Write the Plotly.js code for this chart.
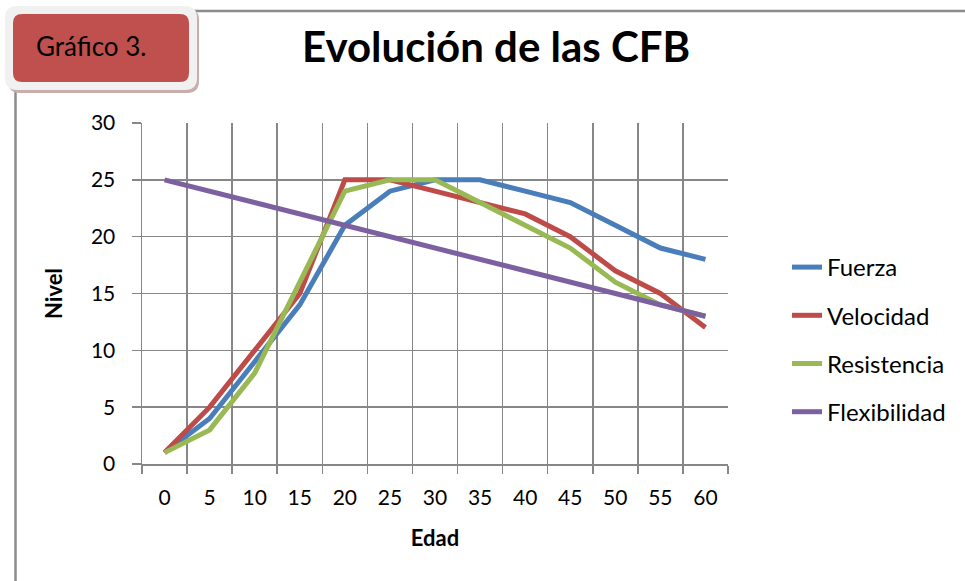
<!DOCTYPE html>
<html>
<head>
<meta charset="utf-8">
<script src="https://cdn.plot.ly/plotly-3.0.1.min.js"></script>
<style>html,body{margin:0;padding:0;background:#fff;}#chart{width:965px;height:581px;}</style>
</head>
<body>
<div id="chart"></div>
<script>
// ---- data ----
const edad = [0, 5, 10, 15, 20, 25, 30, 35, 40, 45, 50, 55, 60];
const fuerza = [1, 4, 9, 14, 21, 24, 25, 25, 24, 23, 21, 19, 18];
const velocidad = [1, 5, 10, 15, 25, 25, 24, 23, 22, 20, 17, 15, 12];
const resistencia = [1, 3, 8, 16, 24, 25, 25, 23, 21, 19, 16, 14, 13];
const flexibilidad = [25, 24, 23, 22, 21, 20, 19, 18, 17, 16, 15, 14, 13];
const seriesNames = ["Fuerza", "Velocidad", "Resistencia", "Flexibilidad"];
const yTicks = [0, 5, 10, 15, 20, 25, 30];
const chartTitle = "Evolución de las CFB";
const boxLabel = "Gráfico 3.";

// ---- layout geometry (pixels) ----
const W = 965, H = 581;
const L = 142, R = 728, T = 123, B = 464;
const X = px => (px - L) / (R - L);
const Y = py => (B - py) / (B - T);

function roundRect(x0, y0, x1, y1, r) {
  const p = [
    `M${X(x0 + r)},${Y(y0)}`,
    `L${X(x1 - r)},${Y(y0)}`,
    `Q${X(x1)},${Y(y0)} ${X(x1)},${Y(y0 + r)}`,
    `L${X(x1)},${Y(y1 - r)}`,
    `Q${X(x1)},${Y(y1)} ${X(x1 - r)},${Y(y1)}`,
    `L${X(x0 + r)},${Y(y1)}`,
    `Q${X(x0)},${Y(y1)} ${X(x0)},${Y(y1 - r)}`,
    `L${X(x0)},${Y(y0 + r)}`,
    `Q${X(x0)},${Y(y0)} ${X(x0 + r)},${Y(y0)}`, 'Z'
  ];
  return p.join(' ');
}

const colors = ["#4A7EBB", "#BE4B48", "#98B954", "#7D60A0"];
const data = [fuerza, velocidad, resistencia, flexibilidad].map((ys, i) => ({
  type: 'scatter', mode: 'lines',
  x: edad.map(String), y: ys, name: seriesNames[i],
  legendgroup: 'g' + i,
  line: { color: colors[i], width: 5 },
  hoverinfo: 'skip'
}));

const gridCol = '#878787';
const font = 'Lato, "Open Sans", sans-serif';

const layout = {
  width: W, height: H,
  margin: { l: L, r: W - R, t: T, b: H - B, pad: 0 },
  paper_bgcolor: '#fff', plot_bgcolor: '#fff',
  font: { family: font, color: '#000', size: 21 },
  showlegend: true,
  legend: {
    x: X(787), y: Y(245), xanchor: 'left', yanchor: 'top',
    font: { family: font, size: 24, color: '#000' },
    tracegroupgap: 14, traceorder: 'grouped',
    bgcolor: 'rgba(0,0,0,0)', itemwidth: 30
  },
  xaxis: {
    type: 'category', range: [-0.5, 12.5],
    tickson: 'boundaries', ticks: 'outside', ticklen: 8, tickcolor: gridCol, tickwidth: 1.5,
    showgrid: true, gridcolor: gridCol, gridwidth: 1.5,
    showline: true, linecolor: gridCol, linewidth: 1.5,
    zeroline: false, fixedrange: true,
    tickfont: { family: font, size: 21 }, ticklabelstandoff: 14,
    title: { text: '<b>Edad</b>', font: { family: font, size: 22 }, standoff: 23 }
  },
  yaxis: {
    range: [0, 30], tickvals: yTicks, ticktext: yTicks.map(String),
    ticks: 'outside', ticklen: 9, tickcolor: gridCol, tickwidth: 1.5,
    showgrid: true, gridcolor: gridCol, gridwidth: 1.5,
    showline: true, linecolor: gridCol, linewidth: 1.5,
    zeroline: false, fixedrange: true,
    tickfont: { family: font, size: 21 }, ticklabelstandoff: 12,
    title: { text: '<b>Nivel</b>', font: { family: font, size: 22 }, standoff: 22 }
  },
  shapes: [
    // chart frame lines
    { type: 'line', xref: 'paper', yref: 'paper', x0: X(190), x1: X(965), y0: Y(11), y1: Y(11),
      line: { color: '#8c8c8c', width: 2.5 }, layer: 'below' },
    { type: 'line', xref: 'paper', yref: 'paper', x0: X(15.5), x1: X(15.5), y0: Y(88), y1: Y(581),
      line: { color: '#8c8c8c', width: 2.5 }, layer: 'below' },
    // box shadow
    { type: 'path', xref: 'paper', yref: 'paper', path: roundRect(8, 8, 199, 93, 12),
      fillcolor: '#c9adad', line: { width: 0 }, layer: 'above' },
    // outer light frame
    { type: 'path', xref: 'paper', yref: 'paper', path: roundRect(5, 6, 197, 90, 12),
      fillcolor: '#f1f1f1', line: { width: 0 }, layer: 'above' },
    // inner red box
    { type: 'path', xref: 'paper', yref: 'paper', path: roundRect(13, 14, 189, 82, 9),
      fillcolor: '#C0504D', line: { width: 0 }, layer: 'above' }
  ],
  annotations: [
    { xref: 'paper', yref: 'paper', x: X(496), y: Y(46), xanchor: 'center', yanchor: 'middle',
      text: '<b>' + chartTitle + '</b>', showarrow: false,
      font: { family: font, size: 42, color: '#000' } },
    { xref: 'paper', yref: 'paper', x: X(91), y: Y(46), xanchor: 'center', yanchor: 'middle',
      text: boxLabel, showarrow: false,
      font: { family: font, size: 26, color: '#000' } }
  ]
};

Plotly.newPlot('chart', data, layout, { displayModeBar: false, staticPlot: true });
</script>
</body>
</html>
